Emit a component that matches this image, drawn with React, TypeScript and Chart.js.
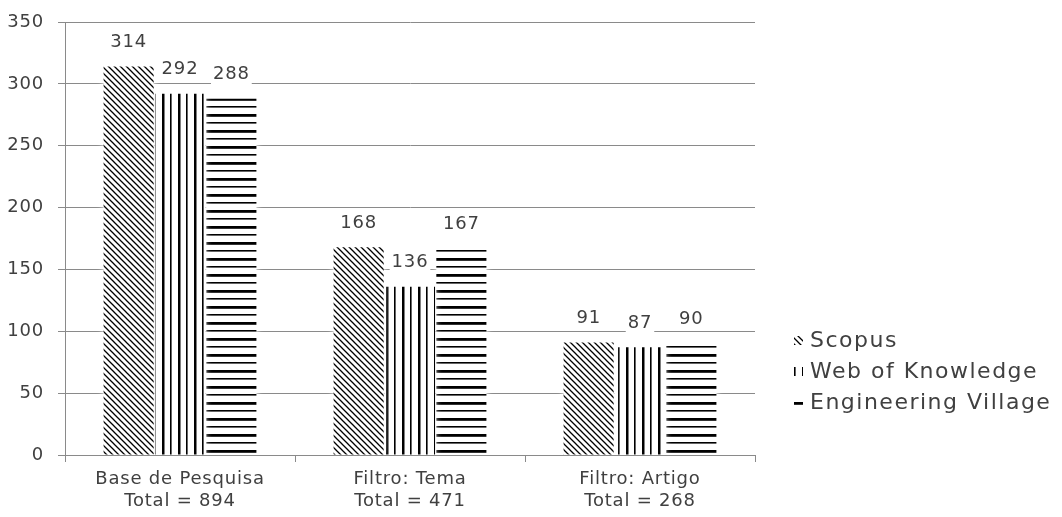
import React, { useEffect, useRef } from "react";
import { Chart, registerables } from "chart.js";

Chart.register(...registerables);

const categories: string[][] = [
  ["Base de Pesquisa", "Total = 894"],
  ["Filtro: Tema", "Total = 471"],
  ["Filtro: Artigo", "Total = 268"],
];
const seriesNames = ["Scopus", "Web of Knowledge", "Engineering Village"];
const scopus = [314, 168, 91];
const webOfKnowledge = [292, 136, 87];
const engineeringVillage = [288, 167, 90];
const yTicks = [0, 50, 100, 150, 200, 250, 300, 350];

const FONT = "'DejaVu Sans', sans-serif";
const TEXT = "#404040";
const GRID = "#8a8a8a";

function makePattern(kind: string): CanvasPattern | string {
  const c = document.createElement("canvas");
  let w = 8, h = 8;
  if (kind === "diag") { w = 6; h = 6; }
  if (kind === "vert") { w = 16; h = 8; }
  if (kind === "horz") { w = 8; h = 16; }
  c.width = w; c.height = h;
  const ctx = c.getContext("2d");
  if (!ctx) return "#000";
  ctx.fillStyle = "#fff";
  ctx.fillRect(0, 0, w, h);
  ctx.fillStyle = "#000";
  ctx.strokeStyle = "#000";
  if (kind === "diag") {
    ctx.lineWidth = 1.3;
    ctx.beginPath();
    ctx.moveTo(-1, -1); ctx.lineTo(w + 1, h + 1);
    ctx.moveTo(-1, h - 1); ctx.lineTo(1, h + 1);
    ctx.moveTo(w - 1, -1); ctx.lineTo(w + 1, 1);
    ctx.stroke();
  } else if (kind === "vert") {
    ctx.fillRect(2, 0, 2.5, h);
    ctx.fillRect(10, 0, 1.6, h);
  } else {
    ctx.fillRect(0, 2, w, 2.8);
    ctx.fillRect(0, 10, w, 1.6);
  }
  const p = ctx.createPattern(c, "repeat");
  return p || "#000";
}

export default function App() {
  const ref = useRef<HTMLCanvasElement | null>(null);
  useEffect(() => {
    if (!ref.current) return;
    const pats = [makePattern("diag"), makePattern("vert"), makePattern("horz")];
    const values = [scopus, webOfKnowledge, engineeringVillage];

    const spacingPlugin = {
      id: "spacing",
      beforeDraw(chart: any) {
        (chart.ctx as any).letterSpacing = "0.8px";
      },
    };

    const glowPlugin = {
      id: "glow",
      beforeDatasetsDraw(chart: any) {
        const ctx = chart.ctx;
        ctx.save();
        ctx.shadowColor = "rgba(255,255,255,1)";
        ctx.shadowBlur = 6;
      },
      afterDatasetsDraw(chart: any) {
        chart.ctx.restore();
      },
    };

    const labelPlugin = {
      id: "labels",
      afterDatasetsDraw(chart: any) {
        const ctx = chart.ctx;
        ctx.save();
        ctx.shadowBlur = 0;
        ctx.font = `18px ${FONT}`;
        ctx.textAlign = "center";
        ctx.textBaseline = "middle";
        chart.data.datasets.forEach((ds: any, di: number) => {
          const meta = chart.getDatasetMeta(di);
          meta.data.forEach((el: any, i: number) => {
            const t = String(ds.data[i]);
            const y = el.y - 24;
            const tw = ctx.measureText(t).width;
            ctx.fillStyle = "#fff";
            ctx.fillRect(el.x - tw / 2 - 2, y - 10, tw + 4, 20);
            ctx.fillStyle = TEXT;
            ctx.fillText(t, el.x, y);
          });
        });
        ctx.restore();
      },
    };

    const legendPlugin = {
      id: "customLegend",
      afterDraw(chart: any) {
        const ctx = chart.ctx;
        ctx.save();
        const ys = [341, 372, 403];
        seriesNames.forEach((name, i) => {
          const y = ys[i];
          ctx.fillStyle = pats[i];
          ctx.fillRect(794, y - 5, 9, 9);
          ctx.fillStyle = TEXT;
          ctx.font = `22px ${FONT}`;
          (ctx as any).letterSpacing = "1.5px";
          ctx.textAlign = "left";
          ctx.textBaseline = "middle";
          ctx.fillText(name, 810, y);
        });
        ctx.restore();
        (ctx as any).letterSpacing = "0px";
      },
    };

    const chart = new Chart(ref.current, {
      type: "bar",
      data: {
        labels: categories,
        datasets: seriesNames.map((n, i) => ({
          label: n,
          data: values[i],
          backgroundColor: pats[i] as any,
          borderWidth: 0,
          categoryPercentage: 0.67,
          barPercentage: 0.975,
        })),
      },
      options: {
        animation: false,
        responsive: false,
        maintainAspectRatio: false,
        layout: { padding: { top: 22, right: 307, left: 0, bottom: 0 } },
        plugins: {
          legend: { display: false },
          tooltip: { enabled: false },
        },
        scales: {
          x: {
            grid: {
              display: true,
              drawOnChartArea: false,
              drawTicks: true,
              tickLength: 7,
              color: GRID,
              offset: true,
            },
            border: { display: true, color: GRID, width: 1 },
            ticks: {
              color: TEXT,
              font: { family: FONT, size: 18, lineHeight: 1.2 },
              padding: 7,
              maxRotation: 0,
            },
            afterFit(scale: any) {
              scale.height = 62;
              scale.paddingLeft = 0;
              scale.paddingRight = 0;
            },
          },
          y: {
            min: 0,
            max: 350,
            afterBuildTicks(scale: any) {
              scale.ticks = yTicks.map((v) => ({ value: v }));
            },
            grid: {
              color: GRID,
              lineWidth: 1,
              drawTicks: true,
              tickLength: 7,
            },
            border: { display: true, color: GRID, width: 1 },
            ticks: {
              color: TEXT,
              font: { family: FONT, size: 18 },
              padding: 14,
            },
            afterFit(scale: any) {
              scale.width = 65;
              scale.paddingTop = 0;
              scale.paddingBottom = 0;
            },
          },
        },
      },
      plugins: [spacingPlugin, glowPlugin, labelPlugin, legendPlugin],
    });
    return () => chart.destroy();
  }, []);

  return (
    <div style={{ position: "fixed", left: 0, top: 0, width: 1062, height: 517, background: "#fff" }}>
      <canvas ref={ref} width={1062} height={517} style={{ width: 1062, height: 517, display: "block" }} />
    </div>
  );
}
